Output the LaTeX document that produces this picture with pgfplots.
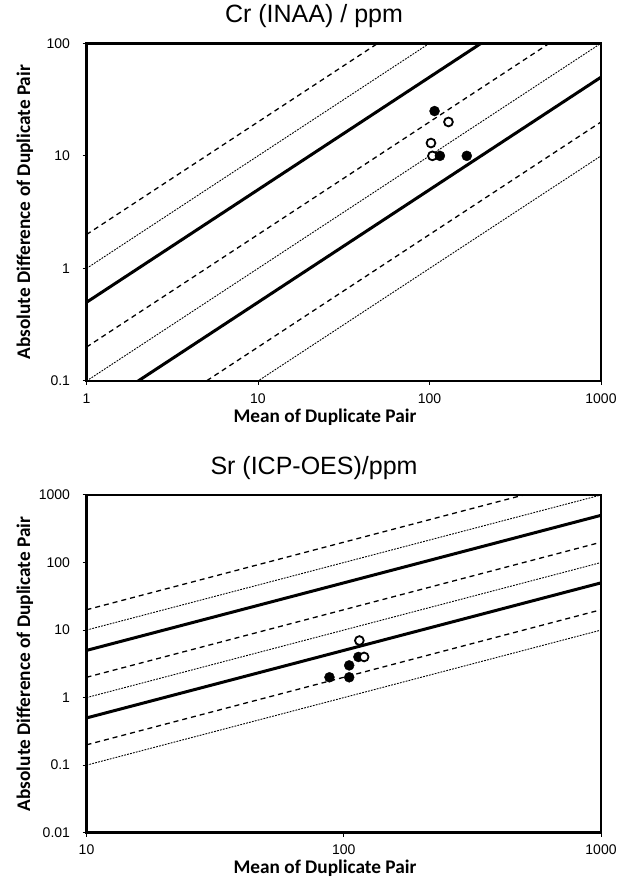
\documentclass[border=0pt]{standalone}
\usepackage{pgfplots}
\pgfplotsset{compat=1.18}
\usepackage{fontspec}
\setmainfont{Liberation Sans}
\newfontfamily\carlito{Carlito}
\pgfplotsset{
  dup/.style={
    width=514.5pt, height=337.7pt, scale only axis,
    axis on top,
    axis line style={line width=2.8pt, black},
    tick align=outside, tick pos=left,
    major tick length=4pt,
    minor tick length=0pt, minor tick style={draw=none},
    major tick style={line width=1pt, black},
    /pgf/number format/assume math mode=true,
    every tick label/.append style={font=\fontsize{14}{16}\selectfont},
    xticklabel style={yshift=-5pt},
    yticklabel style={xshift=-9pt},
    xlabel={Mean of Duplicate Pair},
    ylabel={Absolute Difference of Duplicate Pair},
    label style={font=\carlito\bfseries\fontsize{19.3}{23}\selectfont},
    xlabel style={at={(axis description cs:0.4636,-0.1066)}, anchor=center},
    ylabel style={at={(axis description cs:-0.1196,0.5)}, anchor=center},
    title style={at={(axis description cs:0.4422,1.0616)}, anchor=center, font=\fontsize{25}{29}\selectfont},
    clip mode=individual,
  },
  thk/.style={line width=3pt, black, no marks},
  dsh/.style={line width=1.3pt, black, no marks, dash pattern=on 5pt off 4pt},
  fdsh/.style={line width=0.9pt, black, no marks, dash pattern=on 1.8pt off 1.2pt},
  fil/.style={only marks, mark=*, mark size=5pt, mark options={fill=black, draw=black, solid}},
  opn/.style={only marks, mark=*, mark size=4.4pt, mark options={fill=white, draw=black, line width=1.8pt, solid}},
}
\begin{document}
\begin{tikzpicture}
\path[use as bounding box] (0,0) rectangle (627pt,884pt);
% ---------- Cr ----------
\begin{loglogaxis}[dup, at={(86.5pt,503pt)}, anchor=south west,
  title={Cr (INAA) / ppm},
  xmin=1, xmax=1000, ymin=0.1, ymax=100,
  xtick={1,10,100,1000}, xticklabels={1,10,100,1000},
  ytick={0.1,1,10,100}, yticklabels={0.1,1,10,100}]
\addplot[dsh]  coordinates {(1,2) (1000,2000)};
\addplot[fdsh] coordinates {(1,1) (1000,1000)};
\addplot[thk]  coordinates {(1,0.5) (1000,500)};
\addplot[dsh]  coordinates {(1,0.2) (1000,200)};
\addplot[fdsh] coordinates {(1,0.1) (1000,100)};
\addplot[thk]  coordinates {(1,0.05) (1000,50)};
\addplot[dsh]  coordinates {(1,0.02) (1000,20)};
\addplot[fdsh] coordinates {(1,0.01) (1000,10)};
\addplot[opn] coordinates {(129,20) (102,13) (104,10)};
\addplot[fil] coordinates {(107,25) (115,10) (165,10)};
\end{loglogaxis}
% ---------- Sr ----------
\begin{loglogaxis}[dup, at={(86.5pt,51.3pt)}, anchor=south west,
  title={Sr (ICP-OES)/ppm},
  xmin=10, xmax=1000, ymin=0.01, ymax=1000,
  xtick={10,100,1000}, xticklabels={10,100,1000},
  ytick={0.01,0.1,1,10,100,1000}, yticklabels={0.01,0.1,1,10,100,1000}]
\addplot[dsh]  coordinates {(10,20) (1000,2000)};
\addplot[fdsh] coordinates {(10,10) (1000,1000)};
\addplot[thk]  coordinates {(10,5) (1000,500)};
\addplot[dsh]  coordinates {(10,2) (1000,200)};
\addplot[fdsh] coordinates {(10,1) (1000,100)};
\addplot[thk]  coordinates {(10,0.5) (1000,50)};
\addplot[dsh]  coordinates {(10,0.2) (1000,20)};
\addplot[fdsh] coordinates {(10,0.1) (1000,10)};
\addplot[fil] coordinates {(88,2) (105,2) (105,3) (114,4)};
\addplot[opn] coordinates {(115,7) (120,4)};
\end{loglogaxis}
\end{tikzpicture}
\end{document}
